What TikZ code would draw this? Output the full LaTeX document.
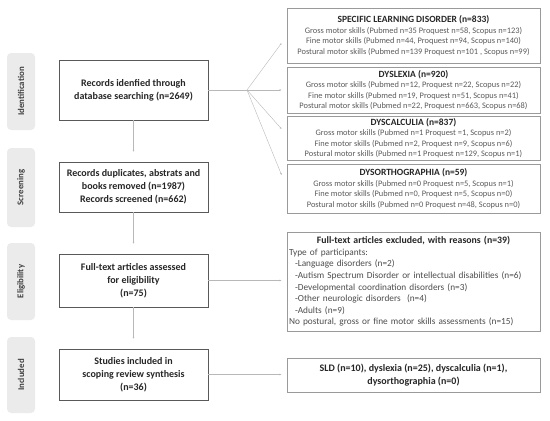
\documentclass[tikz,border=0pt]{standalone}
\usepackage{fontspec}
\setmainfont{Carlito}
\usetikzlibrary{positioning, arrows.meta}

\definecolor{stagegray}{HTML}{EBEBEB}
\definecolor{linegray}{HTML}{B8B8B8}
\definecolor{boxgray}{HTML}{9A9A9A}
\definecolor{textgray}{HTML}{5A5A5A}

\tikzset{
  stage/.style={rotate=90, fill=stagegray, rounded corners=4pt, minimum width=77pt,
    minimum height=28pt, font=\fontsize{8.8}{10}\selectfont\bfseries, text=black!75},
  mainbox/.style={draw=black!65, minimum width=149pt, align=center, inner sep=2pt,
    font=\fontsize{10}{13}\selectfont\bfseries, text=black!85},
  sidebox/.style={draw=boxgray, line width=0.8pt, minimum width=253pt, align=center,
    inner sep=2pt, font=\fontsize{8.4}{10.5}\selectfont, text=textgray},
  link/.style={draw=linegray, line width=0.4pt},
  flow/.style={link, -{Latex[length=2pt,width=2pt]}},
}
\newcommand{\headtext}[1]{{\fontsize{9.5}{12}\selectfont\bfseries\color{black!85}#1}}

\begin{document}
\begin{tikzpicture}[x=1pt,y=-1pt]
  \useasboundingbox (0,0) rectangle (550,421);

  % Stages
  \node [stage] (Sid) at (21,91.5) {Identification};%
  \node [stage, minimum width=79pt] (Sscr) at (21,187.5) {Screening};%
  \node [stage] (Selig) at (21,281.5) {Eligibility};%
  \node [stage, minimum width=76pt] (Sinc) at (21,375) {Included};%

  % Main flow
  \node [mainbox, minimum height=60pt] (Ident) at (133.5,90)
  {Records idenfied through\\database searching (n=2649)};%
  \node [mainbox, minimum height=50pt] (Screen) at (133.5,187)
  {Records duplicates, abstrats and\\books removed (n=1987)\\Records screened (n=662)};%
  \node [mainbox, minimum height=53pt] (Elig) at (133.5,280.5)
  {Full-text articles assessed\\for eligibility\\(n=75)};%
  \node [mainbox, minimum height=51pt] (Incl) at (133.5,374.5)
  {Studies included in\\scoping review synthesis\\(n=36)};%

  % Disorders
  \node [sidebox, minimum height=55pt] (SLD) at (413.5,35.5)
  {\headtext{SPECIFIC LEARNING DISORDER (n=833)}\\
  Gross motor skills (Pubmed n=35 Proquest n=58, Scopus n=123)\\
  Fine motor skills (Pubmed n=44, Proquest n=94, Scopus n=140)\\
  Postural motor skills (Pubmed n=139 Proquest n=101 , Scopus n=99)};%
  \node [sidebox, minimum height=46pt] (Dyslexia) at (413.5,90)
  {\headtext{DYSLEXIA (n=920)}\\
  Gross motor skills (Pubmed n=12, Proquest n=22, Scopus n=22)\\
  Fine motor skills (Pubmed n=19, Proquest n=51, Scopus n=41)\\
  Postural motor skills (Pubmed n=22, Proquest n=663, Scopus n=68)};%
  \node [sidebox, minimum height=44pt] (Dyscalc) at (413.5,138)
  {\headtext{DYSCALCULIA (n=837)}\\
  Gross motor skills (Pubmed n=1 Proquest =1, Scopus n=2)\\
  Fine motor skills (Pubmed n=2, Proquest n=9, Scopus n=6)\\
  Postural motor skills (Pubmed n=1 Proquest n=129, Scopus n=1)};%
  \node [sidebox, minimum height=49pt] (Dysorth) at (413.5,188.5)
  {\headtext{DYSORTHOGRAPHIA (n=59)}\\
  Gross motor skills (Pubmed n=0 Proquest n=5, Scopus n=1)\\
  Fine motor skills (Pubmed n=0, Proquest n=5, Scopus n=0)\\
  Postural motor skills (Pubmed n=0 Proquest n=48, Scopus n=0)};%

  % Exclusions and results
  \node [sidebox, minimum height=99pt, text width=249pt, align=left,
  font=\fontsize{9.3}{11.6}\selectfont, text=black!70] (Excl) at (413.5,281.5)
  {{\centering\fontsize{9.8}{12.5}\selectfont\bfseries\color{black!85}
    Full-text articles excluded, with reasons (n=39)\par}
  Type of participants:\\
  \hspace*{6pt}-Language disorders (n=2)\\
  \hspace*{6pt}-Autism Spectrum Disorder or intellectual disabilities (n=6)\\
  \hspace*{6pt}-Developmental coordination disorders (n=3)\\
  \hspace*{6pt}-Other neurologic disorders\ \ (n=4)\\
  \hspace*{6pt}-Adults (n=9)\\
  No postural, gross or fine motor skills assessments (n=15)};%
  \node [sidebox, minimum height=34pt, font=\fontsize{10}{12.5}\selectfont\bfseries,
  text=black!85] (Done) at (413.5,375)
  {SLD (n=10), dyslexia (n=25), dyscalculia (n=1),\\dysorthographia (n=0)};%

  % arrows
  \draw [flow, shorten >=10pt] (Ident.south) -- (Screen.north);%
  \draw [flow, shorten >=10pt] (Screen.south) -- (Elig.north);%
  \draw [flow, shorten >=10pt] (Elig.south) -- (Incl.north);%
  \coordinate (hub) at (247,90);%
  \draw [link] (Ident.east) -- (hub);%
  \draw [flow] (hub) -- ([xshift=-5pt, yshift=-7.5pt]SLD.west);%
  \draw [flow] (hub) -- ([xshift=-5pt]Dyslexia.west);%
  \draw [flow] (hub) -- ([xshift=-5pt, yshift=9pt]Dyscalc.west);%
  \draw [flow] (hub) -- ([xshift=-5pt, yshift=13.5pt]Dysorth.west);%
  \draw [flow, shorten >=5pt] (Elig.east) -- (Elig.east -| Excl.west);%
  \draw [flow, shorten >=5pt] (Incl.east) -- (Incl.east -| Done.west);%
\end{tikzpicture}
\end{document}
